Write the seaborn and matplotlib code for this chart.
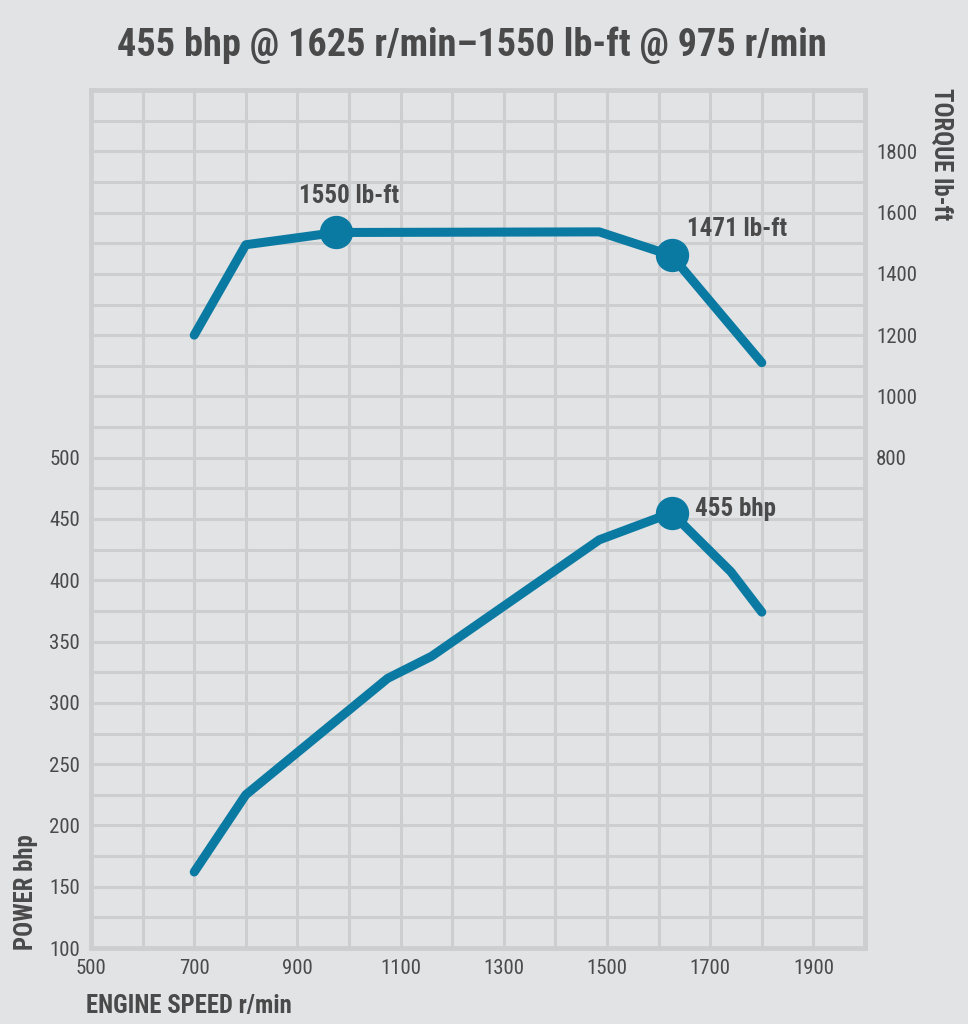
import matplotlib
matplotlib.use("Agg")
import matplotlib.pyplot as plt
import seaborn as sns
import pandas as pd
from matplotlib import font_manager as fm
from matplotlib.ticker import FixedLocator, FuncFormatter

# ---- data ----
power_rpm = [700, 800, 1075, 1160, 1485, 1625, 1740, 1800]
power_bhp = [162, 225, 320, 338, 433, 455, 407, 374]
torque_rpm = [700, 800, 975, 1485, 1625, 1800]
torque_lbft = [1200, 1495, 1535, 1537, 1460, 1110]
peak_power = (1625, 455, "455 bhp")
peak_torque = (975, 1535, "1550 lb-ft")
rated_torque = (1625, 1460, "1471 lb-ft")
title = "455 bhp @ 1625 r/min\u20131550 lb-ft @ 975 r/min"

BG = "#e2e3e5"
GRID = "#cdcecf"
LINE = "#0a7aa3"
TXT = "#4a4a4a"

sns.set_style("white")

# pick a condensed font if one is installed
fam, stretch = None, "normal"
names = {f.name for f in fm.fontManager.ttflist}
for n in ["Liberation Sans Narrow", "Roboto Condensed", "Open Sans Condensed", "Noto Sans Condensed",
          "Arial Narrow", "Nimbus Sans Narrow"]:
    if n in names:
        fam = n
        break
if fam is None:
    for f in fm.fontManager.ttflist:
        if "condensed" in str(f.stretch).lower() or (isinstance(f.stretch, int) and f.stretch < 500):
            fam, stretch = f.name, "condensed"
            if f.name == "DejaVu Sans":
                break
if fam is None:
    fam = "Liberation Sans"
plt.rcParams["font.family"] = [fam, "DejaVu Sans"]
plt.rcParams["font.stretch"] = stretch

fig = plt.figure(figsize=(9.68, 10.24), dpi=100, facecolor=BG)
ax = fig.add_axes([91/968, 1-948/1024, (865-91)/968, (948-90)/1024])
ax.set_facecolor(BG)

ax.set_xlim(500, 2000)
ax.set_ylim(100, 800)

xt = list(range(500, 2001, 100))
ax.xaxis.set_major_locator(FixedLocator(xt))
ax.xaxis.set_major_formatter(FuncFormatter(lambda v, p: f"{int(v)}" if (int(v) - 500) % 200 == 0 and v < 2000 else ""))
yt = list(range(100, 801, 25))
ax.yaxis.set_major_locator(FixedLocator(yt))
ax.yaxis.set_major_formatter(FuncFormatter(lambda v, p: f"{int(v)}" if int(v) % 50 == 0 and v <= 500 else ""))
ax.grid(True, color=GRID, linewidth=2.2)
ax.set_axisbelow(True)
ax.tick_params(length=0, labelsize=15, colors=TXT, pad=8)
for s in ax.spines.values():
    s.set_color(GRID)
    s.set_linewidth(3.5)

df_p = pd.DataFrame({"rpm": power_rpm, "bhp": power_bhp})
sns.lineplot(data=df_p, x="rpm", y="bhp", ax=ax, color=LINE, linewidth=6.5,
             solid_capstyle="round", solid_joinstyle="round", zorder=3)
ax.plot([peak_power[0]], [peak_power[1]], "o", color=LINE, markersize=23, zorder=4)
ax.text(peak_power[0] + 45, peak_power[1] + 3, peak_power[2], fontsize=18, fontweight="bold",
        color=TXT, ha="left", va="center", zorder=5)

ax2 = ax.twinx()
ax2.set_ylim(-800, 2000)
ax2.set_yticks([800, 1000, 1200, 1400, 1600, 1800])
ax2.tick_params(length=0, labelsize=15, colors=TXT, pad=8)
ax2.grid(False)
for s in ax2.spines.values():
    s.set_visible(False)

df_t = pd.DataFrame({"rpm": torque_rpm, "lbft": torque_lbft})
sns.lineplot(data=df_t, x="rpm", y="lbft", ax=ax2, color=LINE, linewidth=6.5,
             solid_capstyle="round", solid_joinstyle="round", zorder=3)
ax2.plot([peak_torque[0], rated_torque[0]], [peak_torque[1], rated_torque[1]], "o",
         color=LINE, markersize=23, zorder=4)
ax2.text(peak_torque[0] + 25, peak_torque[1] + 120, peak_torque[2], fontsize=18, fontweight="bold",
         color=TXT, ha="center", va="center", zorder=5)
ax2.text(rated_torque[0] + 30, rated_torque[1] + 85, rated_torque[2], fontsize=18, fontweight="bold",
         color=TXT, ha="left", va="center", zorder=5)
ax.set_xlabel("")
ax.set_ylabel("")
ax2.set_ylabel("")

fig.text(472/968, 1-45/1024, title, fontsize=27.5, fontweight="bold", color=TXT, ha="center", va="center")
fig.text(86/968, 1-1006/1024, "ENGINE SPEED r/min", fontsize=17.8, fontweight="bold", color=TXT,
         ha="left", va="center")
fig.text(26/968, 1-950/1024, "POWER bhp", fontsize=17.8, fontweight="bold", color=TXT,
         ha="center", va="bottom", rotation=90)
fig.text(941/968, 1-88/1024, "TORQUE lb-ft", fontsize=17.8, fontweight="bold", color=TXT,
         ha="center", va="top", rotation=270)

fig.savefig("out.png", dpi=100, facecolor=BG)
